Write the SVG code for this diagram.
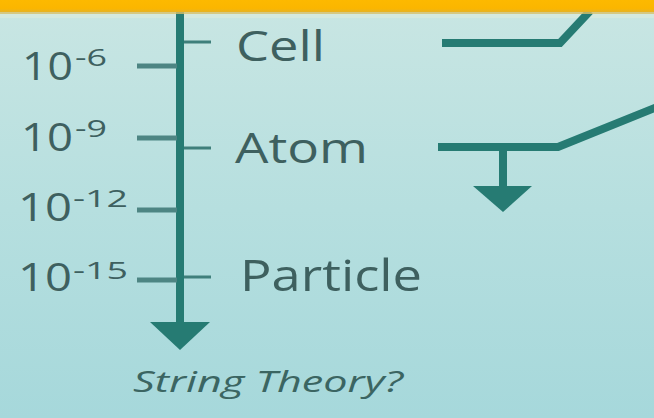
<svg xmlns="http://www.w3.org/2000/svg" width="654" height="418" viewBox="0 0 654 418">
  <defs>
    <linearGradient id="bg" x1="0" y1="0" x2="0" y2="1">
      <stop offset="0" stop-color="#c9e6e3"/>
      <stop offset="0.5" stop-color="#b6dfdf"/>
      <stop offset="1" stop-color="#a6d8db"/>
    </linearGradient>
    <linearGradient id="band" x1="0" y1="0" x2="0" y2="1">
      <stop offset="0" stop-color="#fdb900"/>
      <stop offset="0.7" stop-color="#fbb600"/>
      <stop offset="1" stop-color="#e5b225"/>
    </linearGradient>
    <style>
      .txt { font-family: "Open Sans", "Noto Sans", "DejaVu Sans", sans-serif; fill: #3e605f; }
      .big { font-size: 42px; }
      .num { font-size: 38px; }
      .sup { font-size: 24px; }
      .note { font-size: 30px; font-style: italic; fill: #3b6562; }
      .axis { stroke: #267b73; stroke-width: 8; fill: none; stroke-linejoin: miter; }
      .tickL { stroke: #4d8583; stroke-width: 5; }
      .tickR { stroke: #3f7f7b; stroke-width: 3; }
      .head { fill: #267b73; }
    </style>
  </defs>

  <rect x="0" y="0" width="654" height="418" fill="url(#bg)"/>
  <rect x="0" y="14" width="654" height="4" fill="#d4e9df"/>

  <g id="connectors">
    <line class="axis" x1="180" y1="12" x2="180" y2="324"/>
    <polygon class="head" points="150,322 210,322 180,350"/>
    <polyline class="axis" points="442,43 560,43 590,11"/>
    <polyline class="axis" points="438,147 558,147 662,105"/>
    <line class="axis" x1="503" y1="147" x2="503" y2="188"/>
    <polygon class="head" points="473,186 532,186 503,212"/>
    <line class="tickL" x1="137" y1="66" x2="177" y2="66"/>
    <line class="tickL" x1="137" y1="138" x2="177" y2="138"/>
    <line class="tickL" x1="137" y1="210" x2="177" y2="210"/>
    <line class="tickL" x1="137" y1="280" x2="177" y2="280"/>
    <line class="tickR" x1="184" y1="42" x2="211" y2="42"/>
    <line class="tickR" x1="184" y1="148" x2="211" y2="148"/>
    <line class="tickR" x1="184" y1="277" x2="211" y2="277"/>
  </g>

  <rect x="0" y="0" width="654" height="12" fill="url(#band)"/>
  <rect x="0" y="12" width="654" height="2" fill="#d8c06a" opacity="0.8"/>

  <g id="scale-1e-6">
    <text class="txt num" x="22" y="80" textLength="51" lengthAdjust="spacingAndGlyphs">10</text>
    <text class="txt sup" x="75" y="66" textLength="32" lengthAdjust="spacingAndGlyphs">-6</text>
  </g>
  <g id="scale-1e-9">
    <text class="txt num" x="21" y="151" textLength="52" lengthAdjust="spacingAndGlyphs">10</text>
    <text class="txt sup" x="75" y="137" textLength="32" lengthAdjust="spacingAndGlyphs">-9</text>
  </g>
  <g id="scale-1e-12">
    <text class="txt num" x="18" y="221" textLength="54" lengthAdjust="spacingAndGlyphs">10</text>
    <text class="txt sup" x="73" y="207" textLength="55" lengthAdjust="spacingAndGlyphs">-12</text>
  </g>
  <g id="scale-1e-15">
    <text class="txt num" x="18" y="291" textLength="54" lengthAdjust="spacingAndGlyphs">10</text>
    <text class="txt sup" x="73" y="279" textLength="55" lengthAdjust="spacingAndGlyphs">-15</text>
  </g>

  <g id="cell">
    <text class="txt big" x="236" y="61" textLength="89" lengthAdjust="spacingAndGlyphs">Cell</text>
  </g>
  <g id="atom">
    <text class="txt big" x="235" y="163" textLength="133" lengthAdjust="spacingAndGlyphs">Atom</text>
  </g>
  <g id="particle">
    <text class="txt" x="240" y="291" font-size="44" textLength="182" lengthAdjust="spacingAndGlyphs">Particle</text>
  </g>
  <g id="string-theory">
    <text class="txt note" x="133" y="392" textLength="270" lengthAdjust="spacingAndGlyphs">String Theory?</text>
  </g>
</svg>
